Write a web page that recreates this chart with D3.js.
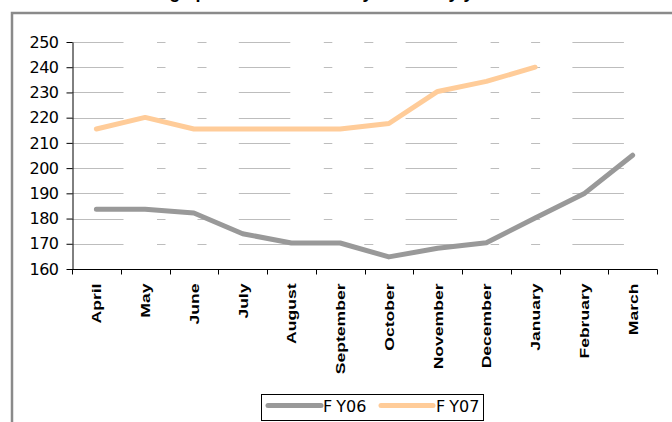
<!DOCTYPE html>
<html>
<head>
<meta charset="utf-8">
<script src="https://cdn.jsdelivr.net/npm/d3@7"></script>
<style>
  html, body { margin: 0; padding: 0; background: #fff; overflow: hidden; }
  svg { display: block; }
</style>
</head>
<body>
<svg id="chart" width="672" height="422"></svg>
<script>
// Monthly values, fiscal year April..March
const months = ["April", "May", "June", "July", "August", "September",
                "October", "November", "December", "January", "February", "March"];
const fy06 = [183.7, 183.7, 182.2, 174, 170.3, 170.3, 164.8, 168.2, 170.4, 180.2, 189.8, 205.1];
const fy07 = [215.5, 220.1, 215.5, 215.5, 215.5, 215.5, 217.7, 230.4, 234.4, 240.0];
const yTicks = [160, 170, 180, 190, 200, 210, 220, 230, 240, 250];
const seriesNames = ["FY06", "FY07"];
const seriesColors = ["#999999", "#ffcc99"];

const svg = d3.select("#chart");

const plot = { left: 72, right: 657, top: 42, bottom: 269 };

const x = d3.scaleBand().domain(months).range([plot.left, plot.right]).padding(0);
const y = d3.scaleLinear().domain([160, 250]).range([plot.bottom, plot.top]);

// Title (runs off the top edge)
svg.append("text")
  .attr("x", 120).attr("y", -2.5)
  .attr("font-family", "Liberation Sans, Arial, sans-serif")
  .attr("font-weight", "bold").attr("font-size", 18)
  .text("Average price of Crude Oil by month by year");

// Chart frame
svg.append("rect")
  .attr("x", 12).attr("y", 13)
  .attr("width", 700).attr("height", 450)
  .attr("fill", "none").attr("stroke", "#8a8a8a").attr("stroke-width", 2.5);

// Horizontal gridlines
svg.append("g")
  .selectAll("line")
  .data(yTicks.filter(d => d !== 160))
  .join("line")
  .attr("x1", plot.left).attr("x2", plot.right)
  .attr("y1", d => Math.round(y(d)) + 0.5).attr("y2", d => Math.round(y(d)) + 0.5)
  .attr("stroke", "#bdbdbd").attr("stroke-width", 1.2)
  .attr("stroke-dasharray", "51.5 33.5 8.5 32 9 32.3");

// Y axis
const yAxis = svg.append("g")
  .attr("transform", `translate(${plot.left + 0.5},0)`)
  .call(d3.axisLeft(y).tickValues(yTicks).tickSize(6).tickPadding(8).tickSizeOuter(0));
yAxis.select(".domain").attr("stroke", "#000");
yAxis.selectAll(".tick line").attr("stroke", "#000");
yAxis.selectAll(".tick text")
  .attr("font-family", "DejaVu Sans, sans-serif")
  .attr("font-size", 16).attr("fill", "#000")
  .attr("letter-spacing", -0.5);

// X axis with ticks on category boundaries
const xAxis = svg.append("g")
  .attr("transform", `translate(0,${plot.bottom + 0.5})`);
xAxis.append("line")
  .attr("x1", plot.left).attr("x2", plot.right + 0.5)
  .attr("stroke", "#000");
const boundaries = months.map(m => x(m)).concat([plot.right]);
xAxis.selectAll("line.tick")
  .data(boundaries)
  .join("line").attr("class", "tick")
  .attr("x1", d => Math.round(d) + 0.5).attr("x2", d => Math.round(d) + 0.5)
  .attr("y1", 0).attr("y2", 5)
  .attr("stroke", "#000");
xAxis.selectAll("text")
  .data(months)
  .join("text")
  .attr("transform", d => `translate(${x(d) + x.bandwidth() / 2 + 5},${14}) rotate(-90) scale(1.35,1)`)
  .attr("text-anchor", "end")
  .attr("font-family", "Liberation Sans, Arial, sans-serif")
  .attr("font-weight", "bold").attr("font-size", 13)
  .text(d => d);

// Series lines
const line = d3.line()
  .x((d, i) => x(months[i]) + x.bandwidth() / 2)
  .y(d => y(d));

[fy06, fy07].forEach((vals, k) => {
  svg.append("path")
    .datum(vals)
    .attr("d", line)
    .attr("fill", "none")
    .attr("stroke", seriesColors[k])
    .attr("stroke-width", 5)
    .attr("stroke-linejoin", "round")
    .attr("stroke-linecap", "round");
});

// Legend
const legend = svg.append("g");
legend.append("rect")
  .attr("x", 261.5).attr("y", 394.5).attr("width", 222).attr("height", 26)
  .attr("fill", "#fff").attr("stroke", "#000");
const legendItems = [{ x0: 268, x1: 321, tx: 323 }, { x0: 381, x1: 433, tx: 436 }];
legendItems.forEach((it, k) => {
  legend.append("line")
    .attr("x1", it.x0).attr("x2", it.x1).attr("y1", 405.5).attr("y2", 405.5)
    .attr("stroke", seriesColors[k]).attr("stroke-width", 5)
    .attr("stroke-linecap", "round");
  const t = legend.append("text")
    .attr("x", it.tx).attr("y", 412)
    .attr("font-family", "DejaVu Sans, sans-serif")
    .attr("font-size", 16).attr("fill", "#000");
  t.append("tspan").text(seriesNames[k].slice(0, 1));
  t.append("tspan").attr("dx", 4).text(seriesNames[k].slice(1));
});
</script>
</body>
</html>
